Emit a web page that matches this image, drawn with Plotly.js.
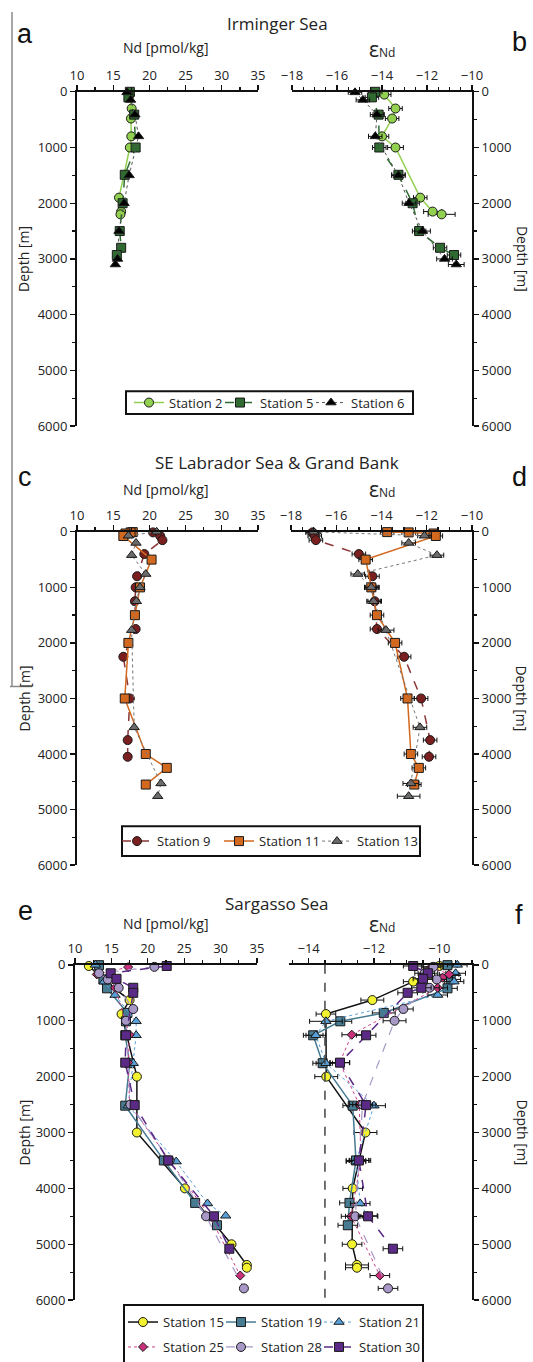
<!DOCTYPE html>
<html><head><meta charset="utf-8">
<script src="https://cdn.plot.ly/plotly-3.0.1.min.js"></script>
<style>html,body{margin:0;padding:0;background:#fff;} #chart{width:533px;height:1362px;}</style>
</head><body><div id="chart"></div>
<script>
const W = 533, H = 1362;

// ---------- tick labels ----------
const ndTicks = [10, 15, 20, 25, 30, 35];
const epsTicksAB = [-18, -16, -14, -12, -10];
const epsTicksF = [-14, -12, -10];
const depthTicks = [0, 1000, 2000, 3000, 4000, 5000, 6000];
const nadwEps = -13.5;

// ---------- Irminger Sea ----------
const st2Depth = [50, 300, 480, 800, 1000, 1900, 2150, 2200];
const st2Nd    = [17.3, 17.55, 17.45, 17.5, 17.3, 15.8, 16.1, 16.0];
const st2Eps   = [-13.9, -13.4, -13.55, -14.0, -13.4, -12.3, -11.75, -11.35];
const st2Err   = [0.3, 0.3, 0.3, 0.3, 0.35, 0.3, 0.4, 0.6];

const st5Depth = [0, 100, 410, 1000, 1490, 2000, 2500, 2800, 2930];
const st5Nd    = [17.3, 17.1, 17.9, 18.1, 16.6, 16.3, 15.9, 16.1, 15.5];
const st5Eps   = [-14.3, -14.45, -14.15, -14.12, -13.27, -12.64, -12.35, -11.42, -10.8];
const st5Err   = [0.3, 0.3, 0.25, 0.3, 0.3, 0.3, 0.3, 0.3, 0.3];

const st6Depth = [10, 145, 410, 800, 1500, 2000, 2500, 3000, 3100];
const st6Nd    = [16.9, 17.4, 18.0, 18.5, 17.2, 16.5, 15.8, 15.6, 15.3];
const st6Eps   = [-15.2, -14.85, -14.22, -14.3, -13.27, -12.8, -12.2, -11.22, -10.7];
const st6Err   = [0.3, 0.3, 0.3, 0.3, 0.3, 0.3, 0.35, 0.35, 0.35];

// ---------- SE Labrador Sea & Grand Bank ----------
const st9Depth = [10, 75, 150, 400, 800, 1000, 1250, 1750, 2250, 3000, 3750, 4050];
const st9Nd    = [20.5, 21.5, 21.8, 19.3, 18.3, 18.1, 18.0, 18.1, 16.4, 17.3, 17.0, 17.0];
const st9Eps   = [-17.05, -16.95, -16.9, -15.0, -14.4, -14.4, -14.3, -14.2, -13.0, -12.25, -11.85, -11.9];
const st9Err   = [0.3, 0.3, 0.3, 0.3, 0.3, 0.3, 0.3, 0.3, 0.3, 0.3, 0.3, 0.3];

const st11Depth = [5, 10, 30, 75, 500, 1000, 1500, 2000, 3000, 4000, 4250, 4550];
const st11Nd    = [17.7, 17.4, 16.7, 16.4, 20.3, 18.7, 18.0, 17.1, 16.6, 19.5, 22.4, 19.5];
const st11Eps   = [-13.75, -12.8, -11.7, -11.6, -14.7, -14.45, -14.2, -13.4, -12.85, -12.7, -12.35, -12.55];
const st11Err   = [0.3, 0.3, 0.3, 0.3, 0.3, 0.3, 0.3, 0.3, 0.3, 0.3, 0.3, 0.3];

const st13Depth = [0, 70, 200, 420, 760, 1000, 1250, 1770, 3520, 4530, 4760];
const st13Nd    = [21.0, 17.1, 18.15, 17.55, 19.5, 18.7, 18.2, 17.55, 17.9, 21.6, 21.15];
const st13Eps   = [-17.0, -12.1, -12.8, -11.55, -15.05, -14.45, -14.35, -13.8, -12.3, -12.7, -12.8];
const st13Err   = [0.3, 0.3, 0.3, 0.3, 0.3, 0.3, 0.3, 0.35, 0.3, 0.35, 0.5];

// ---------- Sargasso Sea ----------
const st15Depth = [20, 300, 630, 880, 2000, 3000, 4000, 5000, 5370, 5420];
const st15Nd    = [11.9, 14.2, 17.5, 16.4, 18.5, 18.5, 25.1, 31.5, 33.6, 33.6];
const st15Eps   = [-10.0, -10.8, -12.05, -13.47, -13.46, -12.26, -12.65, -12.67, -12.52, -12.52];
const st15Err   = [0.3, 0.3, 0.35, 0.3, 0.35, 0.35, 0.3, 0.3, 0.35, 0.35];

const st19Depth = [5, 260, 420, 860, 1010, 1260, 1760, 2520, 3500, 4260, 4660];
const st19Nd    = [13.3, 13.9, 14.4, 17.2, 17.0, 16.9, 17.5, 16.9, 22.2, 26.5, 29.5];
const st19Eps   = [-9.75, -9.65, -9.75, -11.7, -13.03, -13.86, -13.57, -12.65, -12.55, -12.75, -12.8];
const st19Err   = [0.3, 0.3, 0.3, 0.35, 0.35, 0.3, 0.3, 0.3, 0.3, 0.3, 0.3];

const st21Depth = [0, 150, 300, 540, 1010, 1260, 1760, 2520, 3520, 4270, 4490];
const st21Nd    = [12.8, 13.2, 14.0, 15.5, 18.4, 18.4, 18.0, 17.3, 23.9, 28.2, 30.7];
const st21Eps   = [-9.45, -9.5, -9.55, -10.05, -13.47, -13.78, -13.47, -12.0, -12.55, -12.42, -12.2];
const st21Err   = [0.3, 0.3, 0.3, 0.3, 0.5, 0.3, 0.3, 0.35, 0.3, 0.3, 0.3];

const st25Depth = [40, 170, 230, 410, 1250, 1750, 2500, 3500, 4500, 5560];
const st25Nd    = [17.3, 13.0, 14.8, 15.5, 17.5, 17.3, 17.5, 23.0, 28.5, 32.7];
const st25Eps   = [-10.25, -9.7, -9.9, -10.05, -12.68, -13.05, -12.45, -12.4, -12.7, -11.82];
const st25Err   = [0.3, 0.3, 0.3, 0.3, 0.3, 0.3, 0.3, 0.3, 0.3, 0.3];

const st28Depth = [35, 150, 260, 410, 790, 1000, 2500, 3500, 4500, 5790];
const st28Nd    = [20.9, 13.3, 14.5, 16.0, 18.0, 17.0, 17.6, 23.0, 28.0, 33.2];
const st28Eps   = [-10.18, -10.45, -10.08, -10.3, -11.1, -11.37, -12.35, -12.45, -12.57, -11.57];
const st28Err   = [0.3, 0.3, 0.3, 0.3, 0.3, 0.35, 0.3, 0.3, 0.3, 0.3];

const st30Depth = [20, 150, 250, 410, 500, 1260, 1750, 2510, 3500, 4500, 5080];
const st30Nd    = [22.6, 14.9, 15.7, 18.0, 18.0, 17.0, 16.9, 18.2, 22.8, 29.1, 31.2];
const st30Eps   = [-10.8, -10.35, -10.5, -10.55, -10.97, -12.24, -13.04, -12.24, -12.46, -12.18, -11.42];
const st30Err   = [0.3, 0.3, 0.3, 0.3, 0.3, 0.3, 0.3, 0.3, 0.3, 0.3, 0.3];

// ---------- styling ----------
const FONT = 'Open Sans, Noto Sans, sans-serif';
// lgPos: legend symbol centre in pixels (layout only)
const stations = [
  {name:'Station 2',  d:st2Depth,  nd:st2Nd,  e:st2Eps,  err:st2Err,  p:0, lgPos:[149,403.5], sym:'circle',      fill:'#92d050', lc:'#92d050', dash:'solid', lw:1.5, sz:9},
  {name:'Station 5',  d:st5Depth,  nd:st5Nd,  e:st5Eps,  err:st5Err,  p:0, lgPos:[240,403.5], sym:'square',      fill:'#2f6b30', lc:'#2f6b30', dash:'dash',  lw:1.5, sz:9},
  {name:'Station 6',  d:st6Depth,  nd:st6Nd,  e:st6Eps,  err:st6Err,  p:0, lgPos:[331,403.5], sym:'triangle-up', fill:'#000000', lc:'#555555', dash:'dot',   lw:1,   sz:9},
  {name:'Station 9',  d:st9Depth,  nd:st9Nd,  e:st9Eps,  err:st9Err,  p:1, lgPos:[137,843],   sym:'circle',      fill:'#7a1f1f', lc:'#8b3535', dash:'dash',  lw:1.5, sz:9},
  {name:'Station 11', d:st11Depth, nd:st11Nd, e:st11Eps, err:st11Err, p:1, lgPos:[239,843],   sym:'square',      fill:'#d2691e', lc:'#d2691e', dash:'solid', lw:1.5, sz:9},
  {name:'Station 13', d:st13Depth, nd:st13Nd, e:st13Eps, err:st13Err, p:1, lgPos:[337,843],   sym:'triangle-up', fill:'#6b6b6b', lc:'#777777', dash:'dot',   lw:1,   sz:9},
  {name:'Station 15', d:st15Depth, nd:st15Nd, e:st15Eps, err:st15Err, p:2, lgPos:[143,1325],  sym:'circle',      fill:'#f2f230', lc:'#111111', dash:'solid', lw:1.5, sz:9},
  {name:'Station 19', d:st19Depth, nd:st19Nd, e:st19Eps, err:st19Err, p:2, lgPos:[241,1325],  sym:'square',      fill:'#477b92', lc:'#477b92', dash:'solid', lw:1.5, sz:9},
  {name:'Station 21', d:st21Depth, nd:st21Nd, e:st21Eps, err:st21Err, p:2, lgPos:[339,1325],  sym:'triangle-up', fill:'#5aa0d8', lc:'#5aa0d8', dash:'dot',   lw:1,   sz:9},
  {name:'Station 25', d:st25Depth, nd:st25Nd, e:st25Eps, err:st25Err, p:2, lgPos:[143,1350],  sym:'diamond',     fill:'#c8307a', lc:'#d0408a', dash:'dot',   lw:1,   sz:7},
  {name:'Station 28', d:st28Depth, nd:st28Nd, e:st28Eps, err:st28Err, p:2, lgPos:[241,1350],  sym:'circle',      fill:'#a898c8', lc:'#a898c8', dash:'dash',  lw:1.2, sz:9},
  {name:'Station 30', d:st30Depth, nd:st30Nd, e:st30Eps, err:st30Err, p:2, lgPos:[339,1350],  sym:'square',      fill:'#5a2a86', lc:'#5a2a86', dash:'dash',  lw:1.5, sz:9}
];

// panel geometry in pixels (layout only)
const panels = [
  {L:[77,258], R:[292,472], top:92,  bot:427,  epsRange:[-18,-10],  epsTicks:epsTicksAB, title:'Irminger Sea', titleY:24,  letters:['a','b'], letterY:[34,42], ndY:48,  epsY:49,  legendBox:[126,392,413,415]},
  {L:[77,258], R:[291,472], top:533, bot:867,  epsRange:[-18,-10],  epsTicks:epsTicksAB, title:'SE Labrador Sea &amp; Grand Bank', titleY:464, letters:['c','d'], letterY:[478,478], ndY:491, epsY:490, legendBox:[122,828,420,858]},
  {L:[75,257], R:[289,472], top:967, bot:1303, epsRange:[-14.6,-9], epsTicks:epsTicksF,  title:'Sargasso Sea', titleY:905, letters:['e','f'], letterY:[913,917], ndY:926, epsY:926, legendBox:[124,1308,423,1375]}
];

const X = v => v / W;
const Y = v => 1 - v / H;

const layout = {
  width: W, height: H, margin: {l: 0, r: 0, t: 0, b: 0},
  paper_bgcolor: '#fff', plot_bgcolor: 'rgba(0,0,0,0)',
  font: {family: FONT, color: '#222'},
  showlegend: true, annotations: [], shapes: []
};

const traces = [];
stations.forEach((s, i) => {
  const iL = 2 * s.p + 1, iR = 2 * s.p + 2;
  const lgName = i === 0 ? 'legend' : 'legend' + (i + 1);
  layout[lgName] = {
    orientation: 'h', xanchor: 'left', yanchor: 'middle', x: X(s.lgPos[0] - 20), y: Y(s.lgPos[1]),
    bgcolor: 'rgba(0,0,0,0)', borderwidth: 0, itemwidth: 30,
    font: {family: FONT, size: 13, color: '#222'}
  };
  const common = {
    type: 'scatter', mode: 'lines+markers', name: s.name, legend: lgName, cliponaxis: false,
    marker: {symbol: s.sym, size: s.sz, color: s.fill, line: {color: '#1a1a1a', width: 1}},
    line: {color: s.lc, dash: s.dash, width: s.lw}
  };
  traces.push(Object.assign({}, common, {
    x: s.nd, y: s.d, xaxis: 'x' + (iL === 1 ? '' : iL), yaxis: 'y' + (iL === 1 ? '' : iL), showlegend: true
  }));
  traces.push(Object.assign({}, common, {
    x: s.e, y: s.d, xaxis: 'x' + iR, yaxis: 'y' + iR, showlegend: false,
    error_x: {type: 'data', array: s.err, visible: true, color: '#111', thickness: 1, width: 2.5}
  }));
});

const tickfont = {family: FONT, size: 13, color: '#222'};

panels.forEach((P, k) => {
  const iL = 2 * k + 1, iR = 2 * k + 2;
  const sL = iL === 1 ? '' : String(iL);
  const yDom = [Y(P.bot), Y(P.top)];
  const axLine = {showline: true, linewidth: 2, linecolor: '#111', showgrid: false, zeroline: false,
                  ticks: 'outside', ticklen: 5, tickwidth: 1.3, tickcolor: '#111', tickfont: tickfont};
  layout['xaxis' + sL] = Object.assign({}, axLine, {
    domain: [X(P.L[0]), X(P.L[1])], range: [10, 35], side: 'top', anchor: 'y' + sL,
    tickmode: 'array', tickvals: ndTicks, minor: {dtick: 2.5, tick0: 10, ticks: 'outside', ticklen: 3, tickcolor: '#111'}
  });
  layout['yaxis' + sL] = Object.assign({}, axLine, {
    domain: yDom, range: [6000, 0], anchor: 'x' + sL, side: 'left',
    tickmode: 'array', tickvals: depthTicks, minor: {dtick: 500, tick0: 0, ticks: 'outside', ticklen: 3, tickcolor: '#111'}
  });
  layout['xaxis' + iR] = Object.assign({}, axLine, {
    domain: [X(P.R[0]), X(P.R[1])], range: P.epsRange, side: 'top', anchor: 'y' + iR,
    tickmode: 'array', tickvals: P.epsTicks, minor: {dtick: 0.5, tick0: -14, ticks: 'outside', ticklen: 3, tickcolor: '#111'}
  });
  layout['yaxis' + iR] = Object.assign({}, axLine, {
    domain: yDom, range: [6000, 0], anchor: 'x' + iR, side: 'right',
    tickmode: 'array', tickvals: depthTicks, minor: {dtick: 500, tick0: 0, ticks: 'outside', ticklen: 3, tickcolor: '#111'}
  });

  const midY = (P.top + P.bot) / 2;
  const ann = (x, y, text, size, extra) => layout.annotations.push(Object.assign({
    xref: 'paper', yref: 'paper', x: X(x), y: Y(y), text: text, showarrow: false,
    xanchor: 'center', yanchor: 'middle', font: {family: FONT, size: size, color: '#222'}
  }, extra || {}));
  ann(277, P.titleY, P.title, 17);
  ann(165, P.ndY, 'Nd [pmol/kg]', 14);
  ann(382, P.epsY, 'ε<span style="font-size:12px">Nd</span>', 21);
  ann(24, midY, 'Depth [m]', 14, {textangle: -90});
  ann(522, midY, 'Depth [m]', 14, {textangle: 90});
  ann(25, P.letterY[0], P.letters[0], 27, {font: {family: 'Liberation Sans, Arial', size: 27, color: '#111'}});
  ann(519, P.letterY[1], P.letters[1], 27, {font: {family: 'Liberation Sans, Arial', size: 27, color: '#111'}});

  const b = P.legendBox;
  layout.shapes.push({type: 'rect', xref: 'paper', yref: 'paper', x0: X(b[0]), x1: X(b[2]), y0: Y(b[3]), y1: Y(b[1]),
                      line: {color: '#111', width: 2}, fillcolor: 'rgba(0,0,0,0)'});
});

// dashed reference line in panel f
layout.shapes.push({type: 'line', xref: 'x6', yref: 'y6', x0: nadwEps, x1: nadwEps, y0: 0, y1: 6000,
                    line: {color: '#444', width: 1.5, dash: 'dash'}});
// grey crop marks at left edge
layout.shapes.push({type: 'line', xref: 'paper', yref: 'paper', x0: X(12), x1: X(12), y0: Y(12), y1: Y(688), line: {color: '#8a8a8a', width: 1.5}});
layout.shapes.push({type: 'line', xref: 'paper', yref: 'paper', x0: X(10), x1: X(32), y0: Y(688), y1: Y(688), line: {color: '#8a8a8a', width: 1.5}});

Plotly.newPlot('chart', traces, layout, {staticPlot: true, displayModeBar: false});
</script></body></html>
